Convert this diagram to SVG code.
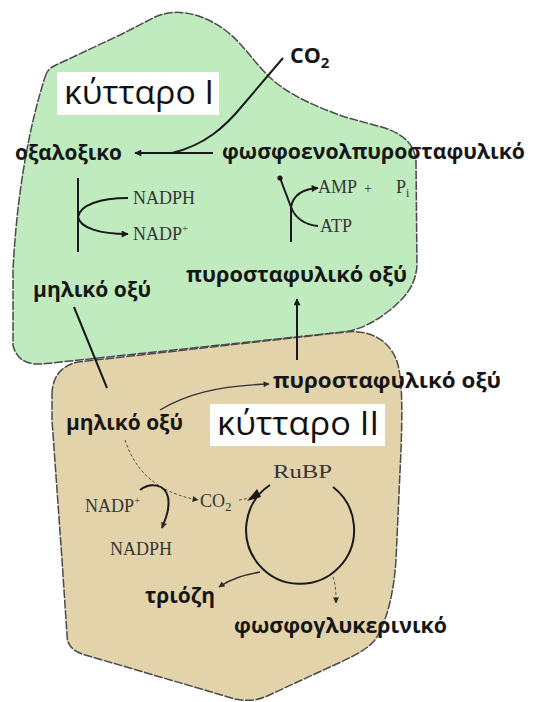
<svg xmlns="http://www.w3.org/2000/svg" width="540" height="702" viewBox="0 0 540 702">
<defs>
<marker id="ah" viewBox="0 0 10 10" refX="9" refY="5" markerWidth="9" markerHeight="7" markerUnits="userSpaceOnUse" orient="auto"><path d="M0,0 L10,5 L0,10 Z" fill="#1a1a1a"/></marker>
<marker id="ahs" viewBox="0 0 10 10" refX="9" refY="5" markerWidth="8" markerHeight="6" markerUnits="userSpaceOnUse" orient="auto"><path d="M0,0 L10,5 L0,10 Z" fill="#2a2a2a"/></marker>
</defs>
<style>
.cell{stroke:#4a4a4a;stroke-width:1.5;stroke-dasharray:9 1.5}
.b{font-family:"Open Sans","DejaVu Sans",sans-serif;font-weight:700;font-size:21.5px;fill:#161616}
.lbl{font-family:"Open Sans","DejaVu Sans",sans-serif;font-size:32px;fill:#111}
.s{font-family:"Liberation Serif","Times New Roman",serif;font-size:18px;fill:#363636}
.ln{fill:none;stroke:#1a1a1a;stroke-width:2}
.th{fill:none;stroke:#333;stroke-width:1.4}
.dsh{fill:none;stroke:#555;stroke-width:1;stroke-dasharray:3 2}
</style>
<rect width="540" height="702" fill="#fff"/>
<g id="cell-I">
<path class="cell" fill="#bfebbf" d="M45,77 C47,70 50,68 56,65 L120,35 L155,17 C175,8 200,12 225,30 C245,45 255,65 275,82 C295,98 320,108 345,117 L385,128 C405,135 414,145 416,160 L417,265 C416,285 405,298 390,310 C375,322 360,330 343,332 L42,364 C28,365 16,360 13,345 L13,270 C16,210 25,140 45,77 Z"/>
</g>
<g id="cell-II">
<path class="cell" fill="#e3d3ab" d="M52,395 C52,378 60,366 78,362 L345,332 C372,329 392,342 398,365 C403,385 402,420 401,450 L396,560 C394,590 388,620 375,640 C365,652 345,660 330,667 L265,697 C255,701 245,701 235,699 L82,654 C72,650 67,645 67,635 L62,560 L52,420 Z"/>
</g>
<g id="label-cell-I">
<rect x="57" y="72" width="162" height="43" fill="#fff"/>
<text class="lbl" x="64" y="104" textLength="150" lengthAdjust="spacingAndGlyphs">κύτταρο Ι</text>
</g>
<g id="label-cell-II">
<rect x="210" y="404" width="175" height="42" fill="#fff"/>
<text class="lbl" x="217" y="435" textLength="162" lengthAdjust="spacingAndGlyphs">κύτταρο ΙΙ</text>
</g>
<g id="connectors">
<path class="ln" d="M213,153 L135,153" marker-end="url(#ah)"/>
<path class="ln" d="M283,58 L243,105 C225,127 205,145 172,153"/>
<path class="ln" d="M78,178 L78,252"/>
<path class="ln" d="M128,198 C100,198 80,205 78,217 C80,228 100,234 128,234" marker-end="url(#ah)"/>
<path class="ln" d="M291,242 L291,206"/>
<path class="ln" d="M291,207 L280,178"/>
<circle cx="280" cy="178" r="2.6" fill="#1a1a1a"/>
<path class="ln" d="M291,207 C293,196 302,189 318,188" marker-end="url(#ah)"/>
<path class="ln" d="M291,207 C295,218 305,225 318,226"/>
<path class="ln" d="M74,307 L107,388"/>
<path class="ln" d="M297,360 L297,299" marker-end="url(#ah)"/>
<path class="th" d="M160,410 C185,395 215,386 269,384" marker-end="url(#ahs)"/>
<path class="dsh" d="M125,440 C135,470 155,492 198,500" marker-end="url(#ahs)"/>
<path class="ln" d="M140,490 C150,482 165,484 168,497 C170,508 166,518 162,528" marker-end="url(#ahs)"/>
<path class="ln" d="M270,485 A54,54 0 1 0 333,487"/>
<path class="dsh" d="M239,500 L250,498"/>
<polygon points="247,501 257,489 261,497" fill="#1a1a1a"/>
<path class="th" d="M260,572 C245,575 232,578 219,587" marker-end="url(#ahs)"/>
<path class="dsh" d="M333,577 C336,585 336,595 336,603" marker-end="url(#ahs)"/>
</g>
<g id="node-co2-top"><text class="b" x="290" y="63" font-size="22">CO<tspan font-size="15" dy="5">2</tspan></text></g>
<g id="node-oxaloacetic"><text class="b" x="15" y="160" textLength="107" lengthAdjust="spacingAndGlyphs">οξαλοξικο</text></g>
<g id="node-pep"><text class="b" x="222" y="159" textLength="303" lengthAdjust="spacingAndGlyphs">φωσφοενολπυροσταφυλικό</text></g>
<g id="node-nadph-I"><text class="s" x="133" y="204">NADPH</text></g>
<g id="node-nadp-I"><text class="s" x="133" y="240">NADP<tspan font-size="11" dy="-8">+</tspan></text></g>
<g id="node-amp"><text class="s" x="318" y="193">AMP<tspan x="364" font-size="14">+</tspan><tspan x="396">P</tspan><tspan font-size="12" dy="4">i</tspan></text></g>
<g id="node-atp"><text class="s" x="320" y="232">ATP</text></g>
<g id="node-pyruvate-I"><text class="b" x="186" y="282" textLength="221" lengthAdjust="spacingAndGlyphs">πυροσταφυλικό οξύ</text></g>
<g id="node-malate-I"><text class="b" x="33" y="297" textLength="118" lengthAdjust="spacingAndGlyphs">μηλικό οξύ</text></g>
<g id="node-pyruvate-II"><text class="b" x="273" y="388" textLength="228" lengthAdjust="spacingAndGlyphs">πυροσταφυλικό οξύ</text></g>
<g id="node-malate-II"><text class="b" x="66" y="430" textLength="117" lengthAdjust="spacingAndGlyphs">μηλικό οξύ</text></g>
<g id="node-co2-II"><text class="s" x="200" y="507">CO<tspan font-size="13" dy="4">2</tspan></text></g>
<g id="node-nadp-II"><text class="s" x="85" y="512">NADP<tspan font-size="11" dy="-8">+</tspan></text></g>
<g id="node-nadph-II"><text class="s" x="110" y="555">NADPH</text></g>
<g id="node-rubp"><text class="s" x="273" y="478" font-size="20" textLength="59" lengthAdjust="spacingAndGlyphs" fill="#555">RuBP</text></g>
<g id="node-triose"><text class="b" x="145" y="603" textLength="70" lengthAdjust="spacingAndGlyphs">τριόζη</text></g>
<g id="node-pga"><text class="b" x="234" y="633" textLength="213" lengthAdjust="spacingAndGlyphs">φωσφογλυκερινικό</text></g>
</svg>
